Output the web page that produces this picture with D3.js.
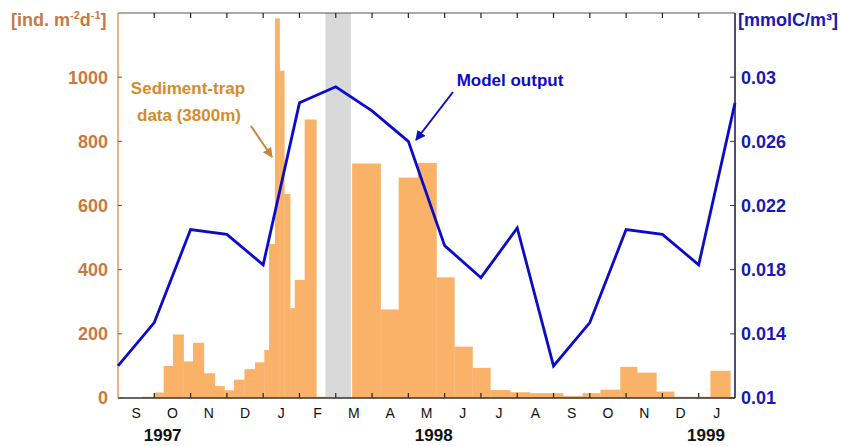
<!DOCTYPE html>
<html><head><meta charset="utf-8">
<script src="https://cdn.jsdelivr.net/npm/d3@7"></script>
<style>
html,body{margin:0;padding:0;background:#fff;}
svg{display:block;font-family:Arial,"Liberation Sans",sans-serif;}
</style></head>
<body>
<svg id="chart" width="841" height="446"></svg>
<script>
// ---------------- DATA ----------------
// Sediment-trap sampling intervals (start date, end date) and flux [ind. m-2 d-1]
const trapStart = ["1997-09-21","1997-10-01","1997-10-09","1997-10-17","1997-10-26","1997-11-03","1997-11-12","1997-11-21","1997-11-29","1997-12-07","1997-12-16","1997-12-25","1998-01-02","1998-01-06","1998-01-11","1998-01-15","1998-01-19","1998-01-24","1998-01-28","1998-02-05","1998-02-14","1998-03-15","1998-04-08","1998-04-23","1998-05-09","1998-05-25","1998-06-09","1998-06-24","1998-07-09","1998-07-26","1998-08-12","1998-09-09","1998-09-25","1998-10-10","1998-10-27","1998-11-10","1998-11-26","1998-12-11","1999-01-11"];
const trapEnd   = ["1997-10-01","1997-10-09","1997-10-17","1997-10-26","1997-11-03","1997-11-12","1997-11-21","1997-11-29","1997-12-07","1997-12-16","1997-12-25","1998-01-02","1998-01-06","1998-01-11","1998-01-15","1998-01-19","1998-01-24","1998-01-28","1998-02-05","1998-02-14","1998-02-21","1998-04-08","1998-04-23","1998-05-09","1998-05-25","1998-06-09","1998-06-24","1998-07-09","1998-07-26","1998-08-12","1998-09-09","1998-09-25","1998-10-10","1998-10-27","1998-11-10","1998-11-26","1998-12-11","1999-01-11","1999-01-28"];
const trapFlux  = [4,17,100,198,114,172,77,37,24,57,90,111,150,480,1183,1020,636,280,368,868,4,731,276,687,733,376,160,94,25,18,15,6,15,26,97,79,20,4,85];

// Gap in sampling (grey band)
const gapStart = "1998-02-21";
const gapEnd   = "1998-03-14";

// Model output [mmolC/m3] at the start of each month
const modelDates  = ["1997-09-01","1997-10-01","1997-11-01","1997-12-01","1998-01-01","1998-02-01","1998-03-01","1998-04-01","1998-05-01","1998-06-01","1998-07-01","1998-08-01","1998-09-01","1998-10-01","1998-11-01","1998-12-01","1999-01-01","1999-02-01"];
const modelValues = [0.0120,0.0147,0.0205,0.0202,0.0183,0.0284,0.0294,0.0279,0.0260,0.0195,0.0175,0.0206,0.0120,0.0147,0.0205,0.0202,0.0183,0.0284];

// Axis labels
const monthLabels = ["S","O","N","D","J","F","M","A","M","J","J","A","S","O","N","D","J"];
const yearLabels  = ["1997","1998","1999"];
const yearAnchor  = [1.23, 8.7, 16.2];       // in months since Sep 1997
const leftTicks   = [0,200,400,600,800,1000];
const rightTicks  = [0.01,0.014,0.018,0.022,0.026,0.03];

// ---------------- LAYOUT ----------------
const M = {left:118, right:735, top:13, bottom:398};
const svg = d3.select("#chart");

const cBar = "#fab168", cGrey = "#d9d9d9", cBlue = "#0c0cc8", cBlueTxt = "#1a1ab0",
      cBrown = "#c57a46", cOrangeAxis = "#f0a050", cAnnot = "#d68b2a";

function monthIdx(s){
  const [y,m,d] = s.split("-").map(Number);
  const dim = new Date(y, m, 0).getDate();
  return (y-1997)*12 + (m-1) - 8 + (d-1)/dim;
}

const x = d3.scaleLinear().domain([0,17]).range([M.left, M.right]);
const yL = d3.scaleLinear().domain([0,1200]).range([M.bottom, M.top]);
const yR = d3.scaleLinear().domain([0.01,0.034]).range([M.bottom, M.top]);

// grey band
svg.append("rect")
  .attr("x", x(monthIdx(gapStart))).attr("y", M.top)
  .attr("width", x(monthIdx(gapEnd)) - x(monthIdx(gapStart)))
  .attr("height", M.bottom - M.top).attr("fill", cGrey);

// bars
svg.append("g").selectAll("rect").data(trapFlux).join("rect")
  .attr("x", (d,i)=>x(monthIdx(trapStart[i])))
  .attr("width", (d,i)=>x(monthIdx(trapEnd[i])) - x(monthIdx(trapStart[i])) + 0.3)
  .attr("y", d=>yL(d))
  .attr("height", d=>M.bottom - yL(d))
  .attr("fill", cBar);

// top border
svg.append("line").attr("x1",M.left).attr("x2",M.right).attr("y1",M.top).attr("y2",M.top)
  .attr("stroke","#555").attr("stroke-width",1);

// month ticks (bottom & top, inward)
const monthTicks = d3.range(1,17);
const tg = svg.append("g").attr("stroke","#222").attr("stroke-width",1.2);
monthTicks.forEach(m=>{
  tg.append("line").attr("x1",x(m)).attr("x2",x(m)).attr("y1",M.bottom).attr("y2",M.bottom-5);
  tg.append("line").attr("x1",x(m)).attr("x2",x(m)).attr("y1",M.top).attr("y2",M.top+5);
});
// bottom axis line
svg.append("line").attr("x1",M.left).attr("x2",M.right).attr("y1",M.bottom).attr("y2",M.bottom)
  .attr("stroke","#333").attr("stroke-width",1.3);

// left axis
svg.append("line").attr("x1",M.left).attr("x2",M.left).attr("y1",M.top).attr("y2",M.bottom)
  .attr("stroke",cOrangeAxis).attr("stroke-width",1.6);
leftTicks.forEach(v=>{
  svg.append("line").attr("x1",M.left).attr("x2",M.left+4).attr("y1",yL(v)).attr("y2",yL(v))
    .attr("stroke","#556").attr("stroke-width",1);
  svg.append("text").attr("x",108).attr("y",yL(v)).attr("dy","0.36em")
    .attr("text-anchor","end").attr("font-size",18).attr("font-weight","bold")
    .attr("fill",cBrown).text(v);
});

// right axis
svg.append("line").attr("x1",M.right).attr("x2",M.right).attr("y1",M.top).attr("y2",M.bottom)
  .attr("stroke","#22225a").attr("stroke-width",1.6);
rightTicks.forEach(v=>{
  svg.append("line").attr("x1",M.right).attr("x2",M.right-5).attr("y1",yR(v)).attr("y2",yR(v))
    .attr("stroke","#333").attr("stroke-width",1);
  svg.append("text").attr("x",741).attr("y",yR(v)).attr("dy","0.36em")
    .attr("text-anchor","start").attr("font-size",18).attr("font-weight","bold")
    .attr("fill",cBlueTxt).text(v);
});

// model line
const line = d3.line().x((d,i)=>x(monthIdx(modelDates[i]))).y(d=>yR(d));
svg.append("path").datum(modelValues).attr("d",line)
  .attr("fill","none").attr("stroke",cBlue).attr("stroke-width",2.8).attr("stroke-linejoin","miter");

// month labels
svg.append("g").selectAll("text").data(monthLabels).join("text")
  .attr("x",(d,i)=>x(i+0.5)).attr("y",418)
  .attr("text-anchor","middle").attr("font-size",14).attr("fill","#111")
  .text(d=>d);

// year labels
svg.append("g").selectAll("text").data(yearLabels).join("text")
  .attr("x",(d,i)=>x(yearAnchor[i])).attr("y",441)
  .attr("text-anchor","middle").attr("font-size",17).attr("font-weight","bold").attr("fill","#111")
  .text(d=>d);

// axis titles
const lt = svg.append("text").attr("x",11).attr("y",26).attr("font-size",18)
  .attr("font-weight","bold").attr("fill",cBrown);
lt.append("tspan").text("[ind. m");
lt.append("tspan").attr("font-size",11).attr("dy",-7).text("-2");
lt.append("tspan").attr("dy",7).text("d");
lt.append("tspan").attr("font-size",11).attr("dy",-7).text("-1");
lt.append("tspan").attr("dy",7).text("]");

svg.append("text").attr("x",738).attr("y",26).attr("font-size",18)
  .attr("font-weight","bold").attr("fill",cBlueTxt).text("[mmolC/m³]");

// annotations
const defs = svg.append("defs");
function marker(id,color){
  defs.append("marker").attr("id",id).attr("viewBox","0 0 10 10").attr("refX",9).attr("refY",5)
    .attr("markerWidth",5).attr("markerHeight",5).attr("orient","auto")
    .append("path").attr("d","M0,0L10,5L0,10z").attr("fill",color);
}
marker("arrO","#c8863a"); marker("arrB",cBlue);

svg.append("text").attr("x",188).attr("y",94).attr("text-anchor","middle")
  .attr("font-size",17).attr("font-weight","bold").attr("fill",cAnnot).text("Sediment-trap");
svg.append("text").attr("x",189).attr("y",121).attr("text-anchor","middle")
  .attr("font-size",17).attr("font-weight","bold").attr("fill",cAnnot).text("data (3800m)");
svg.append("line").attr("x1",251).attr("y1",126).attr("x2",272).attr("y2",157)
  .attr("stroke","#c8863a").attr("stroke-width",2).attr("marker-end","url(#arrO)");

svg.append("text").attr("x",510).attr("y",86).attr("text-anchor","middle")
  .attr("font-size",17).attr("font-weight","bold").attr("fill",cBlue).text("Model output");
svg.append("line").attr("x1",453).attr("y1",92).attr("x2",416).attr("y2",140)
  .attr("stroke",cBlue).attr("stroke-width",2).attr("marker-end","url(#arrB)");
</script>
</body></html>
